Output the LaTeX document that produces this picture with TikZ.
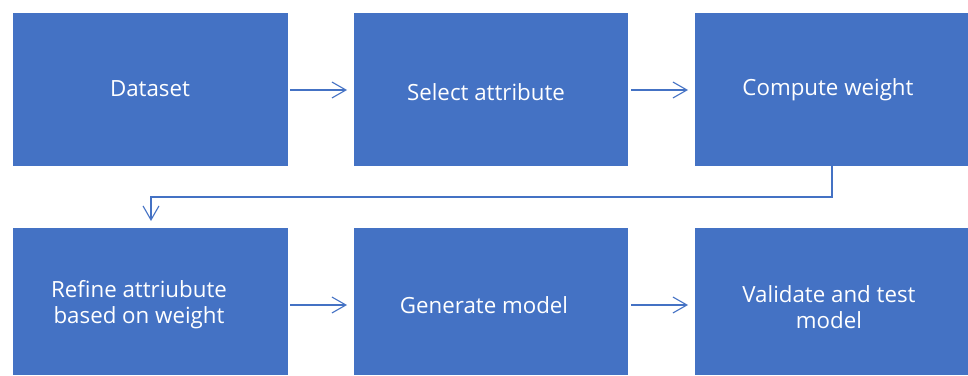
\documentclass[tikz,border=0pt]{standalone}
\usepackage{fontspec}
\setmainfont{Open Sans}
\usetikzlibrary{arrows.meta}
\definecolor{boxblue}{HTML}{4472C4}
\begin{document}
\begin{tikzpicture}[x=1pt,y=-1pt,
  stepbox/.style={fill=boxblue,draw=none,inner sep=0pt,anchor=north west},
  steptext/.style={text=white,font=\fontsize{22.3}{26}\selectfont,align=center,inner sep=0pt},
  flow/.style={draw=boxblue,line width=1.1pt,-{Straight Barb[length=14pt,width=16pt,line width=1.1pt]}}]
  \useasboundingbox (0,0) rectangle (968,375);
  % top row
  \node[stepbox,minimum width=275pt,minimum height=153pt] (b1) at (13,13) {};
  \node[stepbox,minimum width=274pt,minimum height=153pt] (b2) at (354,13) {};
  \node[stepbox,minimum width=274pt,minimum height=153pt] (b3) at (695,13) {};
  % bottom row
  \node[stepbox,minimum width=275pt,minimum height=147pt] (b4) at (13,228) {};
  \node[stepbox,minimum width=274pt,minimum height=147pt] (b5) at (354,228) {};
  \node[stepbox,minimum width=274pt,minimum height=147pt] (b6) at (695,228) {};
  % labels
  \node[steptext] (t1) at (150,89) {Dataset};
  \node[steptext] (t2) at (486,92) {Select attribute};
  \node[steptext] (t3) at (828,90) {Compute weight};
  \node[steptext] (t4) at (139,305) {Refine attriubute\\based on weight};
  \node[steptext] (t5) at (484,305) {Generate model};
  \node[steptext] (t6) at (829,307) {Validate and test\\model};
  % connectors
  \draw[flow] ([xshift=2pt]b1.east|-0,90) -- ([xshift=-7pt]b2.west|-0,90);
  \draw[flow] ([xshift=3pt]b2.east|-0,90) -- ([xshift=-7pt]b3.west|-0,90);
  \draw[flow] ([xshift=2pt]b4.east|-0,305) -- ([xshift=-7pt]b5.west|-0,305);
  \draw[flow] ([xshift=3pt]b5.east|-0,305) -- ([xshift=-7pt]b6.west|-0,305);
  \coordinate (c1) at (832,197);
  \coordinate (c2) at (151,197);
  \draw[flow] (b3.south-|c1) -- (c1) -- (c2) -- ([yshift=7pt]b4.north-|c2);
\end{tikzpicture}
\end{document}
